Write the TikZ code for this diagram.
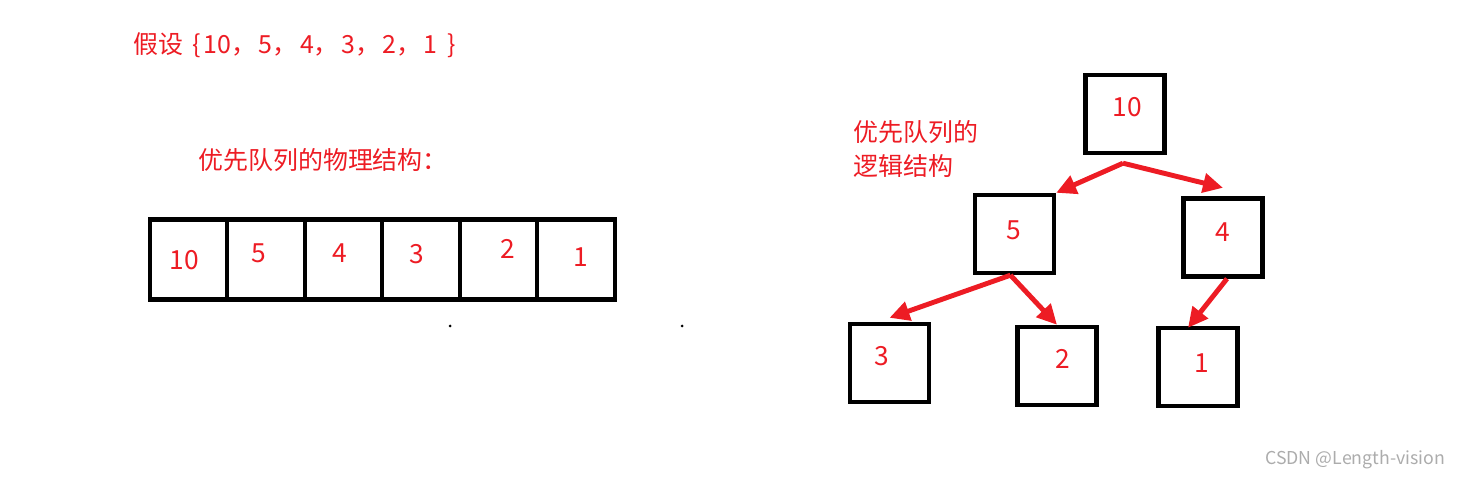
\documentclass[tikz,border=0pt]{standalone}
\usepackage{fontspec}
\setmainfont{Noto Sans CJK SC}
\usetikzlibrary{arrows.meta,calc}
\definecolor{hred}{RGB}{237,28,36}
\newcommand{\cm}{，\hspace{0.05cm}}
\tikzset{
  cell/.style={draw,line width=2.5pt,minimum width=1.55cm,minimum height=1.6cm,inner sep=0pt},
  tbox/.style={draw,line width=2.5pt,minimum width=1.58cm,minimum height=1.56cm,inner sep=0pt},
  num/.style={text=hred,inner sep=0pt,font=\fontsize{15pt}{18pt}\selectfont},
  note/.style={text=hred,inner sep=0pt,anchor=west,align=left,font=\fontsize{14.2pt}{19.3pt}\selectfont},
  arr/.style={draw=hred,line width=2.8pt,-{Triangle[length=0.4cm,width=0.38cm]}}
}

\begin{document}
\begin{tikzpicture}[x=0.02cm,y=-0.02cm]
 \useasboundingbox (0,0) rectangle (1460,479);

 \node[note] (title) at (133,45) {假设\hspace{0.18cm}\{\hspace{0.06cm}10\cm 5\cm 4\cm 3\cm 2\cm 1\hspace{0.2cm}\}};
 \node[note] (phys) at (198,160) {优先队列的物理结构：};
 \node[note] (logic) at (853,149) {优先队列的\\逻辑结构};

 % array
 \foreach \v/\lx/\ly [count=\n] in
        {10/184/260,5/259/253,4/339.5/253.5,3/417/254.5,2/507.5/249,1/581/257}
   {\node[cell] (A\n) at (111+77.5*\n,259.5) {};
    \node[num] (a\n) at (\lx,\ly) {\v};}

 \fill (450,326) circle[radius=0.03cm];
 \fill (682,326) circle[radius=0.03cm];

 % tree
 \foreach \v/\x/\y/\lx/\ly in
        {10/1125/114/1127.5/107,5/1014.5/234/1013.5/230,4/1223/237.5/1223/232.5,
         3/889.5/363/881.5/356.5,2/1057/366/1062.5/358.5,1/1198/367/1202/363}
   {\node[tbox] (t\v) at (\x,\y) {};
    \node[num] (n\v) at (\lx,\ly) {\v};}

 \draw[arr] ([xshift=-0.04cm,yshift=-0.16cm]t10.south) -- (t5.north east);
 \draw[arr] ([xshift=-0.04cm,yshift=-0.16cm]t10.south) -- ([yshift=0.17cm]t4.north);
 \draw[arr] ([xshift=-0.08cm]t5.south) -- ([yshift=0.08cm]t3.north);
 \draw[arr] ([xshift=-0.08cm]t5.south) -- (t2.north);
 \draw[arr] ([xshift=0.08cm]t4.south) -- ([xshift=-0.2cm,yshift=-0.04cm]t1.north);

 \node[anchor=west,inner sep=0pt,text=gray!65,font=\fontsize{10.1pt}{12pt}\selectfont] (mark) at (1265,460) {CSDN @Length-vision};
\end{tikzpicture}
\end{document}
